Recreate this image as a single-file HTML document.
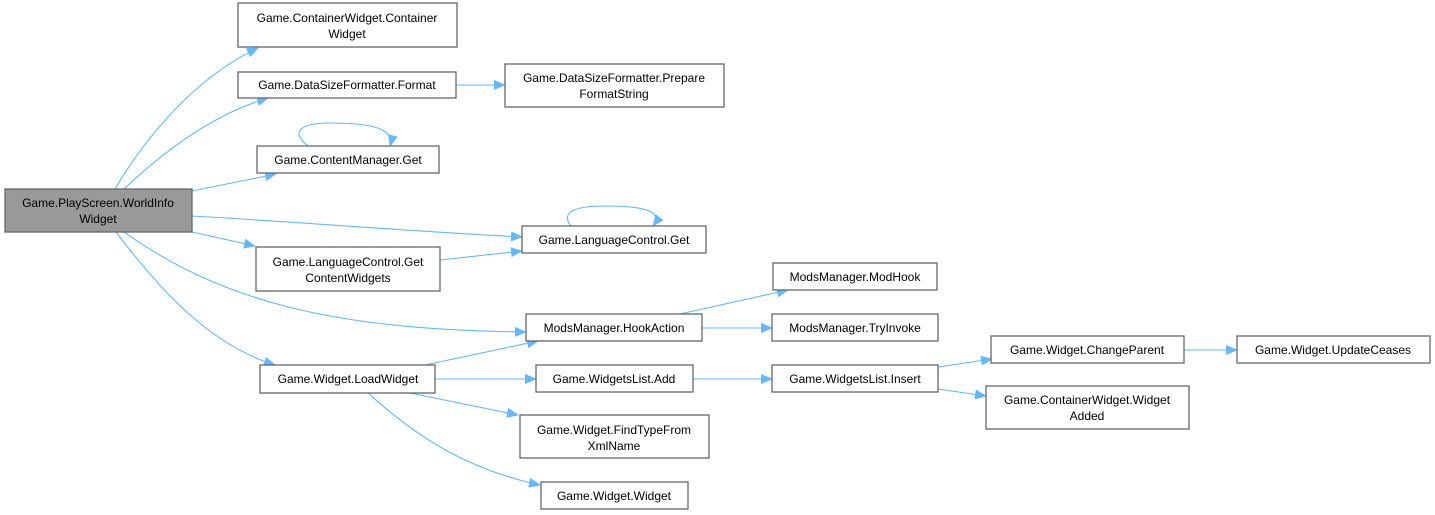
<!DOCTYPE html>
<html><head><meta charset="utf-8"><style>
html,body{margin:0;padding:0;background:#fff;}
svg{display:block;}
text{font-family:"Liberation Sans",Arial,sans-serif;font-size:12px;fill:#000;text-anchor:middle;}
.b{fill:#fff;stroke:#666;stroke-width:1.3;}
.e{fill:none;stroke:#63b8ff;stroke-width:1.1;}
</style></head><body>
<svg width="1435" height="515" viewBox="0 0 1435 515">
<defs><marker id="a" markerWidth="12" markerHeight="10" refX="11" refY="5" orient="auto" markerUnits="userSpaceOnUse"><path d="M0,0 L12,5 L0,10 z" fill="#63b8ff"/></marker></defs>
<!-- edges -->
<path class="e" marker-end="url(#a)" d="M115,189 C150,130 200,75 258,48"/>
<path class="e" marker-end="url(#a)" d="M124,189 C160,155 210,115 268,98"/>
<path class="e" marker-end="url(#a)" d="M192,191 L276,174"/>
<path class="e" marker-end="url(#a)" d="M192,216 C300,222 420,232 522,237"/>
<path class="e" marker-end="url(#a)" d="M192,232 L255,246"/>
<path class="e" marker-end="url(#a)" d="M124,232 C220,300 330,330 526,332"/>
<path class="e" marker-end="url(#a)" d="M116,232 C160,290 210,345 275,365"/>
<path class="e" marker-end="url(#a)" d="M456,85 L505,85"/>
<path class="e" marker-end="url(#a)" d="M308,146 C290,132 300,123 330,123 C370,123 395,128 390,146"/>
<path class="e" marker-end="url(#a)" d="M571,226 C560,212 575,206 605,206 C640,206 665,210 653,226"/>
<path class="e" marker-end="url(#a)" d="M440,260 L522,251"/>
<path class="e" marker-end="url(#a)" d="M680,314 L788,290"/>
<path class="e" marker-end="url(#a)" d="M702,328 L772,328"/>
<path class="e" marker-end="url(#a)" d="M425,365 L538,341"/>
<path class="e" marker-end="url(#a)" d="M435,379 L536,379"/>
<path class="e" marker-end="url(#a)" d="M410,393 L518,415"/>
<path class="e" marker-end="url(#a)" d="M368,393 C420,440 470,470 540,485"/>
<path class="e" marker-end="url(#a)" d="M693,379 L772,379"/>
<path class="e" marker-end="url(#a)" d="M938,367 L992,359"/>
<path class="e" marker-end="url(#a)" d="M938,389 L986,396"/>
<path class="e" marker-end="url(#a)" d="M1184,350 L1237,350"/>
<!-- nodes -->
<rect x="5" y="189" width="187" height="43" fill="#999" stroke="#666" stroke-width="1.3"/>
<text x="98" y="207">Game.PlayScreen.WorldInfo</text><text x="98" y="223">Widget</text>
<rect class="b" x="238" y="3" width="219" height="44"/>
<text x="347" y="22">Game.ContainerWidget.Container</text><text x="347" y="38">Widget</text>
<rect class="b" x="238" y="72" width="218" height="26"/>
<text x="347" y="89">Game.DataSizeFormatter.Format</text>
<rect class="b" x="505" y="64" width="219" height="43"/>
<text x="614" y="82">Game.DataSizeFormatter.Prepare</text><text x="614" y="98">FormatString</text>
<rect class="b" x="257" y="146" width="182" height="27"/>
<text x="348" y="164">Game.ContentManager.Get</text>
<rect class="b" x="522" y="226" width="184" height="27"/>
<text x="614" y="244">Game.LanguageControl.Get</text>
<rect class="b" x="256" y="247" width="184" height="44"/>
<text x="348" y="266">Game.LanguageControl.Get</text><text x="348" y="282">ContentWidgets</text>
<rect class="b" x="773" y="263" width="164" height="27"/>
<text x="855" y="281">ModsManager.ModHook</text>
<rect class="b" x="526" y="314" width="176" height="27"/>
<text x="614" y="332">ModsManager.HookAction</text>
<rect class="b" x="772" y="314" width="166" height="27"/>
<text x="855" y="332">ModsManager.TryInvoke</text>
<rect class="b" x="260" y="365" width="175" height="28"/>
<text x="348" y="383">Game.Widget.LoadWidget</text>
<rect class="b" x="536" y="365" width="157" height="27"/>
<text x="614" y="383">Game.WidgetsList.Add</text>
<rect class="b" x="772" y="365" width="166" height="27"/>
<text x="855" y="383">Game.WidgetsList.Insert</text>
<rect class="b" x="991" y="336" width="193" height="27"/>
<text x="1087" y="354">Game.Widget.ChangeParent</text>
<rect class="b" x="1237" y="336" width="193" height="27"/>
<text x="1333" y="354">Game.Widget.UpdateCeases</text>
<rect class="b" x="986" y="386" width="203" height="43"/>
<text x="1087" y="404">Game.ContainerWidget.Widget</text><text x="1087" y="420">Added</text>
<rect class="b" x="520" y="415" width="189" height="43"/>
<text x="614" y="434">Game.Widget.FindTypeFrom</text><text x="614" y="450">XmlName</text>
<rect class="b" x="541" y="482" width="147" height="27"/>
<text x="614" y="500">Game.Widget.Widget</text>
</svg>
</body></html>
